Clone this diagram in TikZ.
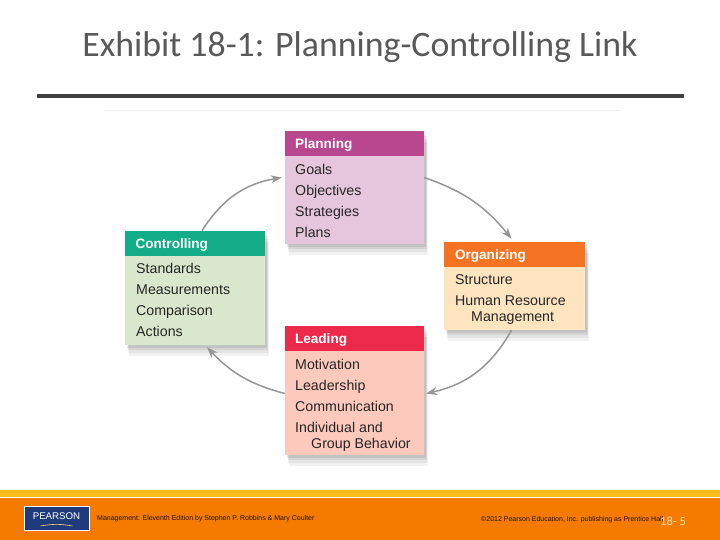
\documentclass[tikz,border=0pt]{standalone}
\usepackage{fontspec}
\setmainfont{Liberation Sans}
\newfontfamily\titlefont{Carlito}
\usetikzlibrary{arrows.meta,shadows}

\definecolor{planhead}{HTML}{B8478F}
\definecolor{planbody}{HTML}{E6C6DD}
\definecolor{orghead}{HTML}{F47423}
\definecolor{orgbody}{HTML}{FFE4C0}
\definecolor{leadhead}{HTML}{EE2A4A}
\definecolor{leadbody}{HTML}{FCC9BC}
\definecolor{ctrlhead}{HTML}{12AD86}
\definecolor{ctrlbody}{HTML}{D9E8CC}
\definecolor{footorange}{HTML}{F57A00}
\definecolor{footyellow}{HTML}{F5BC1C}
\definecolor{logoblue}{HTML}{1F3A7D}
\definecolor{flowgray}{HTML}{969696}

\tikzset{
    softshadow/.style={
        general shadow={shadow xshift=4pt,shadow yshift=-11pt,opacity=.05,fill=black},
        general shadow={shadow xshift=3pt,shadow yshift=-8pt,opacity=.06,fill=black},
        general shadow={shadow xshift=3pt,shadow yshift=-5pt,opacity=.07,fill=black},
        general shadow={shadow xshift=2pt,shadow yshift=-3pt,opacity=.08,fill=black}},
    bodybox/.style={inner sep=0pt,softshadow},
    headbox/.style={inner sep=0pt,anchor=north,minimum height=25pt,text=white,text height=13pt,text depth=3pt,font=\fontsize{13.6}{16}\selectfont\bfseries,align=left,text width=#1},
    items/.style={inner sep=0pt,anchor=north west,align=left,text=black!85,font=\fontsize{14.2}{16}\selectfont},
    flow/.style={-{Stealth[length=11pt,width=8pt]},flowgray,line width=1.5pt},
    foottext/.style={inner sep=0pt,text=black!85!footorange,font=\fontsize{7}{8}\selectfont}
}

\begin{document}
\begin{tikzpicture}[x=1pt,y=1pt,>=Stealth]
    \useasboundingbox (0,0) rectangle (720,540);
    % title
    \node[inner sep=0pt,text=black!65,font=\fontsize{35.8}{40}\selectfont\titlefont] (title) at (360,492.5) {Exhibit 18-1: Planning-Controlling Link};
    \fill[black!75] (37,442) rectangle (684,446);
    \draw[black!6,line width=.7pt] (104,430) -- (620,430);
    % planning
    \node[bodybox,fill=planbody,minimum width=139pt,minimum height=113pt] (planning) at (354.5,352.5) {};
    \node[headbox=119pt,fill=planhead,minimum width=139pt] (planninghead) at (planning.north) {Planning};
    \node[items] (planningitems) at (295,376) {Goals\\[5pt]Objectives\\[5pt]Strategies\\[5pt]Plans};
    % organizing
    \node[bodybox,fill=orgbody,minimum width=141pt,minimum height=88pt] (organizing) at (514.5,254) {};
    \node[headbox=119pt,fill=orghead,minimum width=141pt] (organizinghead) at (organizing.north) {Organizing};
    \node[items] (organizingitems) at (455,266) {Structure\\[5pt]Human Resource\\\hspace*{16pt}Management};
    % leading
    \node[bodybox,fill=leadbody,minimum width=139pt,minimum height=129pt] (leading) at (354.5,149.5) {};
    \node[headbox=119pt,fill=leadhead,minimum width=139pt] (leadinghead) at (leading.north) {Leading};
    \node[items] (leadingitems) at (295,181) {Motivation\\[5pt]Leadership\\[5pt]Communication\\[5pt]Individual and\\\hspace*{16pt}Group Behavior};
    % controlling
    \node[bodybox,fill=ctrlbody,minimum width=140pt,minimum height=114pt] (controlling) at (195,252) {};
    \node[headbox=119pt,fill=ctrlhead,minimum width=140pt] (controllinghead) at (controlling.north) {Controlling};
    \node[items] (controllingitems) at (136,277) {Standards\\[5pt]Measurements\\[5pt]Comparison\\[5pt]Actions};
    % cycle
    \draw[flow] ([yshift=10pt]planning.east) to[bend left=16] ([xshift=-3pt,yshift=3pt]organizing.north);
    \draw[flow] ([xshift=-3pt]organizing.south) to[bend left=24] ([xshift=2pt,yshift=-3pt]leading.east);
    \draw[flow] ([yshift=-3pt]leading.west) to[bend left=16] ([xshift=12pt,yshift=-2pt]controlling.south);
    \draw[flow] ([xshift=7pt]controlling.north) to[bend left=24] ([xshift=-3pt,yshift=10pt]planning.west);
    % footer
    \fill[footyellow] (0,43) rectangle (720,50);
    \fill[footorange] (0,0) rectangle (720,42);
    \node[fill=logoblue,draw=white,line width=.3pt,minimum width=65pt,minimum height=24pt,inner sep=0pt] (logo) at (56.5,22) {};
    \node[inner sep=0pt,text=white,font=\fontsize{9.7}{11}\selectfont] (logotext) at (56.5,24) {PEARSON};
    \draw[footyellow!60!white,line width=.6pt] ([xshift=-16pt,yshift=-8pt]logo.center) to[bend left=10] ([xshift=16pt,yshift=-8pt]logo.center);
    \node[foottext,anchor=west] (bookline) at (97,21) {Management: Eleventh Edition by Stephen P. Robbins \& Mary Coulter};
    \node[foottext,anchor=west] (copyline) at (481,20) {©2012 Pearson Education, Inc. publishing as Prentice Hall};
    \node[inner sep=0pt,text=footyellow!40!white,font=\fontsize{12.5}{14}\selectfont\titlefont,anchor=west] (pagenum) at (660,19) {18- 5};
\end{tikzpicture}
\end{document}
